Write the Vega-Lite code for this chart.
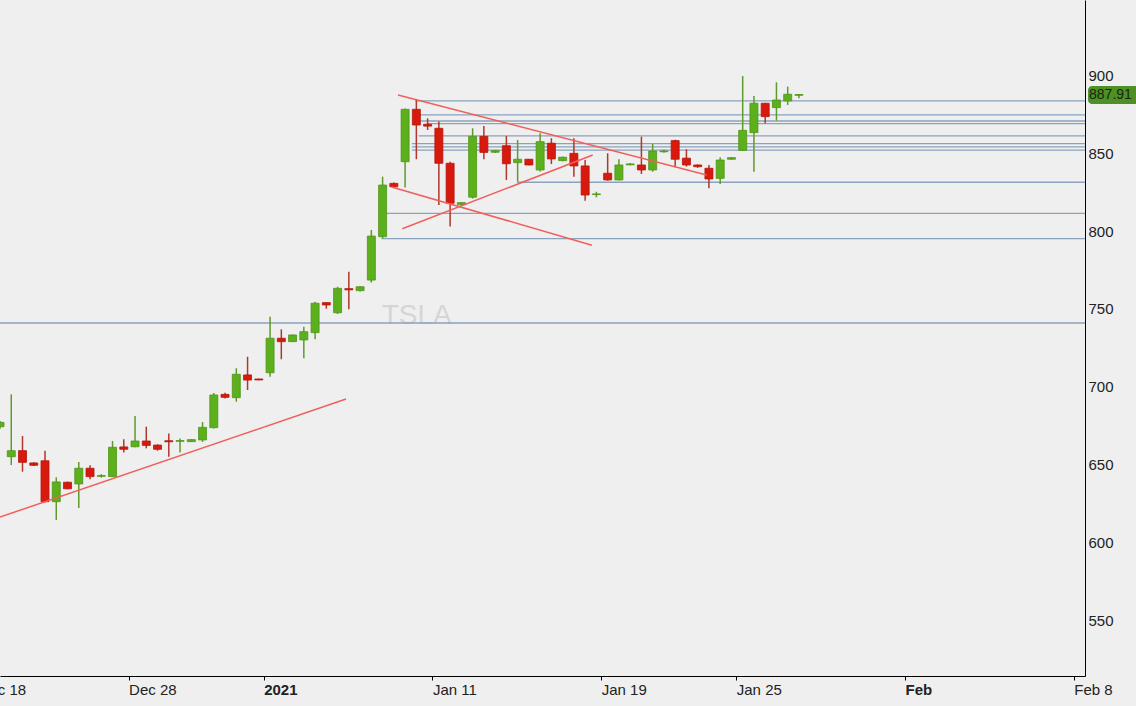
{
  "$schema": "https://vega.github.io/schema/vega-lite/v6.json",
  "width": 1085,
  "height": 676,
  "autosize": "none",
  "padding": {"left": 0, "top": 0, "right": 51, "bottom": 30},
  "background": "#efefef",
  "view": {"stroke": null},
  "config": {"font": "Liberation Sans", "scale": {"continuousPadding": 0}},
  "datasets": {
    "bars": [
      {"i": -12, "o": 674.3, "h": 678, "l": 673, "c": 677.1},
      {"i": -11, "o": 655, "h": 695.1, "l": 649.7, "c": 658.9},
      {"i": -10, "o": 658.9, "h": 668.3, "l": 645.4, "c": 651.4},
      {"i": -9, "o": 651, "h": 651.5, "l": 649, "c": 649.5},
      {"i": -8, "o": 652.4, "h": 658.9, "l": 625.5, "c": 626.1},
      {"i": -7, "o": 626.1, "h": 641.8, "l": 614.3, "c": 638.8},
      {"i": -6, "o": 638.6, "h": 639, "l": 634, "c": 634.4},
      {"i": -5, "o": 637.5, "h": 651.6, "l": 622, "c": 647.6},
      {"i": -4, "o": 647.6, "h": 649.5, "l": 640.5, "c": 642.2},
      {"i": -3, "o": 642.4, "h": 643.8, "l": 641.6, "c": 642.9},
      {"i": -2, "o": 642.2, "h": 665.1, "l": 642, "c": 661.1},
      {"i": -1, "o": 661.3, "h": 666.2, "l": 657.8, "c": 659.8},
      {"i": 0, "o": 661.4, "h": 681.2, "l": 661.1, "c": 665.1},
      {"i": 1, "o": 665.1, "h": 674.3, "l": 660.4, "c": 662.3},
      {"i": 2, "o": 662.5, "h": 663, "l": 658.9, "c": 659.8},
      {"i": 3, "o": 665.3, "h": 670, "l": 655, "c": 664.6},
      {"i": 4, "o": 664.9, "h": 666.8, "l": 657.8, "c": 665.4},
      {"i": 5, "o": 664.7, "h": 666.2, "l": 664.5, "c": 666.0},
      {"i": 6, "o": 665.8, "h": 677.3, "l": 664.5, "c": 673.9},
      {"i": 7, "o": 673.7, "h": 696, "l": 673.2, "c": 694.7},
      {"i": 8, "o": 695.1, "h": 696.2, "l": 692.5, "c": 693.2},
      {"i": 9, "o": 693, "h": 711.9, "l": 690.4, "c": 708},
      {"i": 10, "o": 707.6, "h": 719.3, "l": 697.9, "c": 704.3},
      {"i": 11, "o": 705, "h": 705.2, "l": 704.2, "c": 704.4},
      {"i": 12, "o": 709, "h": 745, "l": 706.4, "c": 731.2},
      {"i": 13, "o": 731.2, "h": 736.9, "l": 717.7, "c": 729},
      {"i": 14, "o": 729, "h": 733.5, "l": 728.8, "c": 733.3},
      {"i": 15, "o": 730.1, "h": 738.6, "l": 718.3, "c": 735.4},
      {"i": 16, "o": 734.8, "h": 754.7, "l": 730.5, "c": 753.7},
      {"i": 17, "o": 754.1, "h": 754.3, "l": 750.2, "c": 752.6},
      {"i": 18, "o": 747.6, "h": 764.3, "l": 746.8, "c": 763.3},
      {"i": 19, "o": 763.1, "h": 774, "l": 749.8, "c": 762.3},
      {"i": 20, "o": 761.8, "h": 764.8, "l": 761.2, "c": 764.3},
      {"i": 21, "o": 768.6, "h": 800.8, "l": 767, "c": 796.9},
      {"i": 22, "o": 796.5, "h": 835.1, "l": 795.4, "c": 829.7},
      {"i": 23, "o": 830.8, "h": 831.3, "l": 828, "c": 828.6},
      {"i": 24, "o": 844.7, "h": 879, "l": 828.2, "c": 878.4},
      {"i": 25, "o": 878.4, "h": 884.8, "l": 846.3, "c": 868.3},
      {"i": 26, "o": 868.8, "h": 872.6, "l": 865.1, "c": 867.6},
      {"i": 27, "o": 866.2, "h": 870.5, "l": 816.9, "c": 843.7},
      {"i": 28, "o": 843.7, "h": 844.7, "l": 803, "c": 818},
      {"i": 29, "o": 817.1, "h": 818.6, "l": 816.8, "c": 818.4},
      {"i": 30, "o": 821.9, "h": 866.2, "l": 821, "c": 861},
      {"i": 31, "o": 861, "h": 867.7, "l": 846.3, "c": 850.7},
      {"i": 32, "o": 850.8, "h": 852.3, "l": 850.3, "c": 851.8},
      {"i": 33, "o": 855, "h": 861.3, "l": 833, "c": 843.4},
      {"i": 34, "o": 844.1, "h": 858.7, "l": 831.9, "c": 846.3},
      {"i": 35, "o": 846.3, "h": 846.5, "l": 842.4, "c": 842.6},
      {"i": 36, "o": 839.4, "h": 863, "l": 838.4, "c": 857.6},
      {"i": 37, "o": 856.6, "h": 859.8, "l": 843.2, "c": 846.5},
      {"i": 38, "o": 845.4, "h": 848, "l": 845, "c": 847.6},
      {"i": 39, "o": 850.1, "h": 859.8, "l": 835.1, "c": 842},
      {"i": 40, "o": 842, "h": 845.8, "l": 819.6, "c": 823.3},
      {"i": 41, "o": 823.6, "h": 825.4, "l": 821.8, "c": 824},
      {"i": 42, "o": 837.3, "h": 850.1, "l": 832.5, "c": 833},
      {"i": 43, "o": 833, "h": 846.3, "l": 832.6, "c": 842.6},
      {"i": 44, "o": 842.7, "h": 843.9, "l": 842.4, "c": 843.3},
      {"i": 45, "o": 842.6, "h": 860.8, "l": 836.8, "c": 839.4},
      {"i": 46, "o": 839.4, "h": 856.1, "l": 838.3, "c": 851.6},
      {"i": 47, "o": 851.1, "h": 852.4, "l": 850.5, "c": 851.6},
      {"i": 48, "o": 858.3, "h": 858.8, "l": 841.1, "c": 846.3},
      {"i": 49, "o": 847, "h": 852.7, "l": 841.6, "c": 842.6},
      {"i": 50, "o": 842.6, "h": 843, "l": 840.8, "c": 841.5},
      {"i": 51, "o": 840.5, "h": 842.6, "l": 827.6, "c": 833.6},
      {"i": 52, "o": 834, "h": 847.6, "l": 830.4, "c": 845.8},
      {"i": 53, "o": 846.3, "h": 847.6, "l": 846, "c": 847.3},
      {"i": 54, "o": 852, "h": 899.8, "l": 851.6, "c": 864.9},
      {"i": 55, "o": 863.4, "h": 887, "l": 838.3, "c": 882.3},
      {"i": 56, "o": 882.3, "h": 882.5, "l": 869.4, "c": 873.7},
      {"i": 57, "o": 879.5, "h": 895.8, "l": 871.1, "c": 884.4},
      {"i": 58, "o": 883.8, "h": 893, "l": 881.2, "c": 888.1},
      {"i": 59, "o": 887.4, "h": 888.2, "l": 885.5, "c": 887.91}
    ],
    "levels": [
      {"p": 883.8, "x0": 24.9, "x1": 84.42},
      {"p": 874.8, "x0": 25.3, "x1": 84.42},
      {"p": 870.9, "x0": 25.3, "x1": 84.42},
      {"p": 869.2, "x0": 25.9, "x1": 84.42},
      {"p": 861.3, "x0": 25.2, "x1": 84.42},
      {"p": 856.4, "x0": 24.6, "x1": 84.42},
      {"p": 854.3, "x0": 24.6, "x1": 84.42},
      {"p": 852.1, "x0": 24.6, "x1": 84.42},
      {"p": 831.5, "x0": 33.95, "x1": 84.42},
      {"p": 811.5, "x0": 22.2, "x1": 84.42},
      {"p": 795.2, "x0": 21.9, "x1": 84.42},
      {"p": 741.0, "x0": -12, "x1": 84.42}
    ],
    "trends": [
      {"x0": -12, "p0": 616.2, "x1": 18.75, "p1": 692.1},
      {"x0": 23.37, "p0": 887.6, "x1": 50.8, "p1": 836.2},
      {"x0": 22.8, "p0": 828.5, "x1": 40.6, "p1": 791.0},
      {"x0": 23.75, "p0": 801.6, "x1": 40.67, "p1": 849.0}
    ],
    "watermark": [{"x": 25.03, "p": 745.8, "t": "TSLA"}],
    "last": [{"x": 84.69, "x2": 89.2, "lo": 881.8, "hi": 893.4, "p": 887.91, "t": "887.91"}]
  },
  "layer": [
    {
      "data": {"name": "watermark"},
      "mark": {"type": "text", "fontSize": 28, "color": "#d5d5d5", "align": "center", "baseline": "middle"},
      "encoding": {
        "x": {"field": "x", "type": "quantitative",
          "scale": {"domain": [-12, 84.42], "nice": false, "zero": false, "padding": 0},
          "axis": {
            "orient": "bottom", "title": null, "grid": false,
            "values": [-11.99, -0.57, 11.43, 26.43, 41.43, 53.43, 68.43, 83.43],
            "labelExpr": "datum.value < -5 ? 'Dec 18' : datum.value < 5 ? 'Dec 28' : datum.value < 20 ? '2021' : datum.value < 35 ? 'Jan 11' : datum.value < 47 ? 'Jan 19' : datum.value < 60 ? 'Jan 25' : datum.value < 75 ? 'Feb' : 'Feb 8'",
            "domainColor": "#000", "domainWidth": 1, "tickColor": "#000", "tickSize": 4,
            "tickOpacity": {"condition": {"test": "datum.value < -5", "value": 0}, "value": 1},
            "labelOffset": {"condition": {"test": "datum.value < -5", "value": -22}, "value": 0},
            "labelAlign": "left", "labelFlush": false, "labelOverlap": false, "labelBound": false,
            "labelFontSize": 15, "labelColor": "#222", "labelPadding": 2,
            "labelFontWeight": {"condition": {"test": "(datum.value > 5 && datum.value < 20) || (datum.value > 60 && datum.value < 75)", "value": "bold"}, "value": "normal"}
          }},
        "y": {"field": "p", "type": "quantitative",
          "scale": {"domain": [514, 948.7], "nice": false, "zero": false, "padding": 0},
          "axis": {
            "orient": "right", "title": null, "grid": false, "ticks": false,
            "values": [550, 600, 650, 700, 750, 800, 850, 900],
            "domainColor": "#000", "domainWidth": 1,
            "labelAlign": "left", "labelBaseline": "middle", "labelFlush": false, "labelOverlap": false,
            "labelFontSize": 15, "labelColor": "#222", "labelPadding": 3
          }},
        "text": {"field": "t"}
      }
    },
    {
      "data": {"name": "levels"},
      "mark": {"type": "rule", "color": "#89a2bd", "strokeWidth": 1.3},
      "encoding": {
        "x": {"field": "x0", "type": "quantitative", "title": null},
        "x2": {"field": "x1"},
        "y": {"field": "p", "type": "quantitative", "title": null}
      }
    },
    {
      "data": {"name": "bars"},
      "mark": {"type": "rule", "strokeWidth": 1.5},
      "encoding": {
        "x": {"field": "i", "type": "quantitative", "title": null},
        "y": {"field": "l", "type": "quantitative", "title": null},
        "y2": {"field": "h"},
        "color": {"condition": {"test": "datum.c >= datum.o", "value": "#5f9a2c"}, "value": "#b0372a"}
      }
    },
    {
      "data": {"name": "bars"},
      "mark": {"type": "bar", "size": 8, "strokeWidth": 0.8},
      "encoding": {
        "x": {"field": "i", "type": "quantitative", "title": null},
        "y": {"field": "o", "type": "quantitative", "title": null},
        "y2": {"field": "c"},
        "fill": {"condition": {"test": "datum.c >= datum.o", "value": "#5cb01c"}, "value": "#d8190d"},
        "stroke": {"condition": {"test": "datum.c >= datum.o", "value": "#4f9418"}, "value": "#b5170c"}
      }
    },
    {
      "data": {"name": "trends"},
      "mark": {"type": "rule", "color": "#ef5f5c", "strokeWidth": 1.5},
      "encoding": {
        "x": {"field": "x0", "type": "quantitative", "title": null},
        "x2": {"field": "x1"},
        "y": {"field": "p0", "type": "quantitative", "title": null},
        "y2": {"field": "p1"}
      }
    },
    {
      "data": {"name": "last"},
      "mark": {"type": "rect", "cornerRadius": 4, "color": "#4e8f26"},
      "encoding": {
        "x": {"field": "x", "type": "quantitative", "title": null},
        "x2": {"field": "x2"},
        "y": {"field": "lo", "type": "quantitative", "title": null},
        "y2": {"field": "hi"}
      }
    },
    {
      "data": {"name": "last"},
      "mark": {"type": "text", "fontSize": 14, "color": "#14290a", "align": "left", "baseline": "middle", "dx": 1},
      "encoding": {
        "x": {"field": "x", "type": "quantitative", "title": null},
        "y": {"field": "p", "type": "quantitative", "title": null},
        "text": {"field": "t"}
      }
    }
  ]
}
